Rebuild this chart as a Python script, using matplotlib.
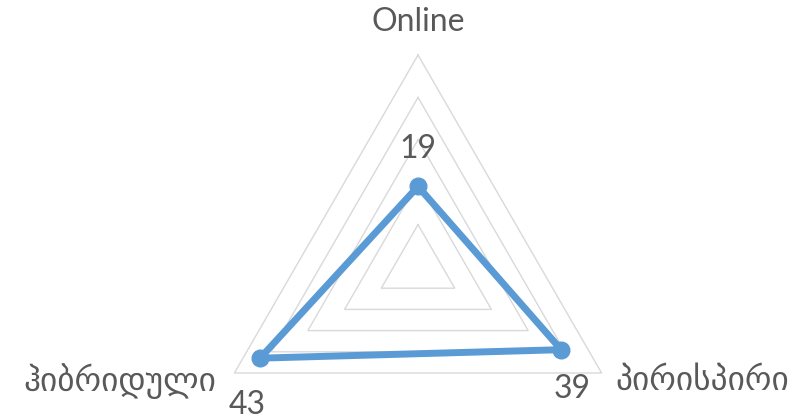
import numpy as np
import matplotlib.pyplot as plt

categories = ['Online', 'პირისპირი', 'ჰიბრიდული']
values = [19, 39, 43]
grid_levels = [10, 20, 30, 40, 50]

plt.rcParams['font.family'] = ['Lato', 'DejaVu Sans']

DPI = 100
fig = plt.figure(figsize=(7.91, 4.19), dpi=DPI)
ax = fig.add_axes([0, 0, 1, 1])

# pixels per value unit, centre of the radar in pixels
scale = 4.24
cx, cy = 418, 267
ax.set_xlim(-cx / scale, (791 - cx) / scale)
ax.set_ylim(-(419 - cy) / scale, cy / scale)
ax.axis('off')

# angles clockwise from the top
angles = np.array([0, 120, 240]) * np.pi / 180
sx, sy = np.sin(angles), np.cos(angles)

# grid triangles
for lv in grid_levels:
    ax.plot(np.append(sx, sx[0]) * lv, np.append(sy, sy[0]) * lv,
            color='#d9d9d9', lw=1.0, zorder=1)

# data
vals = np.array(values)
px, py = sx * vals, sy * vals
ax.plot(np.append(px, px[0]), np.append(py, py[0]), color='#5b9bd5',
        lw=5, solid_joinstyle='round', zorder=3)
ax.plot(px, py, 'o', color='#5b9bd5', ms=12, zorder=4)

txt = '#595959'
label_offsets = [(0, 27), (8, -28), (-9, -34)]
for x, y, v, off in zip(px, py, values, label_offsets):
    ax.annotate(str(v), (x, y), xytext=off, textcoords='offset points',
                ha='center', va='center', fontsize=23, color=txt)

# category labels
top = grid_levels[-1]
ax.annotate(categories[0], (sx[0] * top, sy[0] * top), xytext=(0, 24),
            textcoords='offset points', ha='center', va='center',
            fontsize=23, color=txt)
ax.annotate(categories[1], (sx[1] * top, sy[1] * top), xytext=(10, -6),
            textcoords='offset points', ha='left', va='center',
            fontsize=24, color=txt)
ax.annotate(categories[2], (sx[2] * top, sy[2] * top), xytext=(-13, -6),
            textcoords='offset points', ha='right', va='center',
            fontsize=24, color=txt)

fig.savefig('out.png', dpi=DPI)
